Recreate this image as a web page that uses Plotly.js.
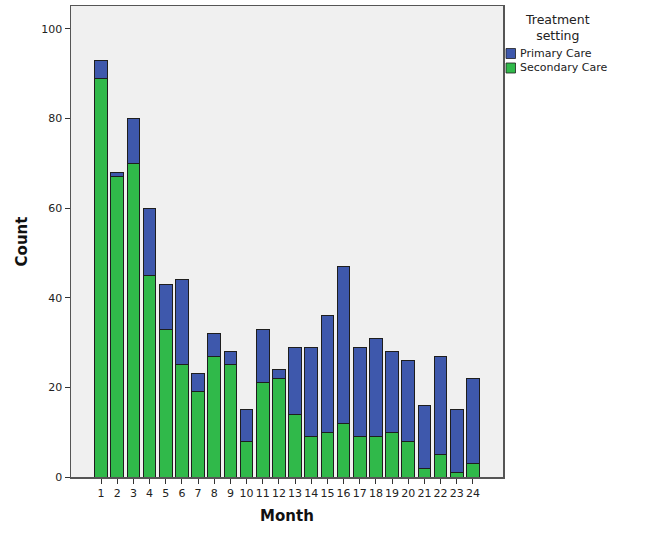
<!DOCTYPE html>
<html>
<head>
<meta charset="utf-8">
<script src="https://cdn.plot.ly/plotly-3.0.1.min.js"></script>
<style>html,body{margin:0;padding:0;background:#fff;}#chart{width:671px;height:537px;}</style>
</head>
<body>
<div id="chart"></div>
<script>
// ---- data ----
const months = [1,2,3,4,5,6,7,8,9,10,11,12,13,14,15,16,17,18,19,20,21,22,23,24];
const monthLabels = ["1","2","3","4","5","6","7","8","9","10","11","12","13","14","15","16","17","18","19","20","21","22","23","24"];
const secondaryCare = [89,67,70,45,33,25,19,27,25,8,21,22,14,9,10,12,9,9,10,8,2,5,1,3];
const primaryCare   = [4,1,10,15,10,19,4,5,3,7,12,2,15,20,26,35,20,22,18,18,14,22,14,19];
const seriesNames = ["Primary Care","Secondary Care"];
const legendTitle = "Treatment<br>setting";
const yTicks = [0,20,40,60,80,100];

// ---- styling ----
const W = 671, H = 537;
const M = {l:71, r:168, t:6, b:60};
const blue = "#3E58AC", green = "#30B94A", edge = "#1e1e1e";
const font = "DejaVu Sans, Verdana, sans-serif";
const pw = W - M.l - M.r, ph = H - M.t - M.b;
const px = x => (x - M.l) / pw;
const py = y => 1 - (y - M.t) / ph;

const traces = [
  {type:"bar", name:seriesNames[1], x:months, y:secondaryCare,
   marker:{color:green, line:{color:edge, width:1}}, showlegend:false},
  {type:"bar", name:seriesNames[0], x:months, y:primaryCare,
   marker:{color:blue, line:{color:edge, width:1}}, showlegend:false}
];

const legendItems = [
  {name:seriesNames[0], color:blue, y0:48.5, y1:58.5},
  {name:seriesNames[1], color:green, y0:63, y1:73}
];
const shapes = legendItems.map(it => ({
  type:"rect", xref:"paper", yref:"paper",
  x0:px(506), x1:px(515.5), y0:py(it.y1), y1:py(it.y0),
  fillcolor:it.color, line:{color:edge, width:0.8}
}));
const annotations = legendItems.map(it => ({
  xref:"paper", yref:"paper", x:px(518), y:py((it.y0+it.y1)/2),
  xanchor:"left", yanchor:"middle", showarrow:false, text:it.name,
  font:{family:font, size:11, color:"#222"}
}));
annotations.push({
  xref:"paper", yref:"paper", x:px(557), y:py(10), xanchor:"center", yanchor:"top",
  showarrow:false, text:legendTitle, align:"center",
  font:{family:font, size:12.5, color:"#222"}
});

const layout = {
  width:W, height:H, margin:M,
  paper_bgcolor:"#ffffff", plot_bgcolor:"#F0F0F0",
  barmode:"stack", bargap:0.21, showlegend:false,
  font:{family:font, size:11, color:"#222"},
  xaxis:{type:"linear", range:[-0.86, 25.86], tickmode:"array", tickvals:months, ticktext:monthLabels,
    ticks:"outside", ticklen:5, tickcolor:"#333", showgrid:false, zeroline:false,
    showline:true, mirror:true, linecolor:"#555", linewidth:1.5,
    tickfont:{family:font, size:11, color:"#222"},
    title:{text:"Month", font:{family:font, size:15, color:"#111", weight:"bold"}, standoff:12}},
  yaxis:{range:[0,105.1], tickmode:"array", tickvals:yTicks, ticks:"outside", ticklen:5, tickcolor:"#333",
    showgrid:false, zeroline:false, showline:true, mirror:true, linecolor:"#555", linewidth:1.5,
    tickfont:{family:font, size:11, color:"#222"},
    title:{text:"Count", font:{family:font, size:15, color:"#111", weight:"bold"}, standoff:10}},
  shapes:shapes, annotations:annotations
};

Plotly.newPlot("chart", traces, layout, {displayModeBar:false, staticPlot:true});
</script>
</body>
</html>
